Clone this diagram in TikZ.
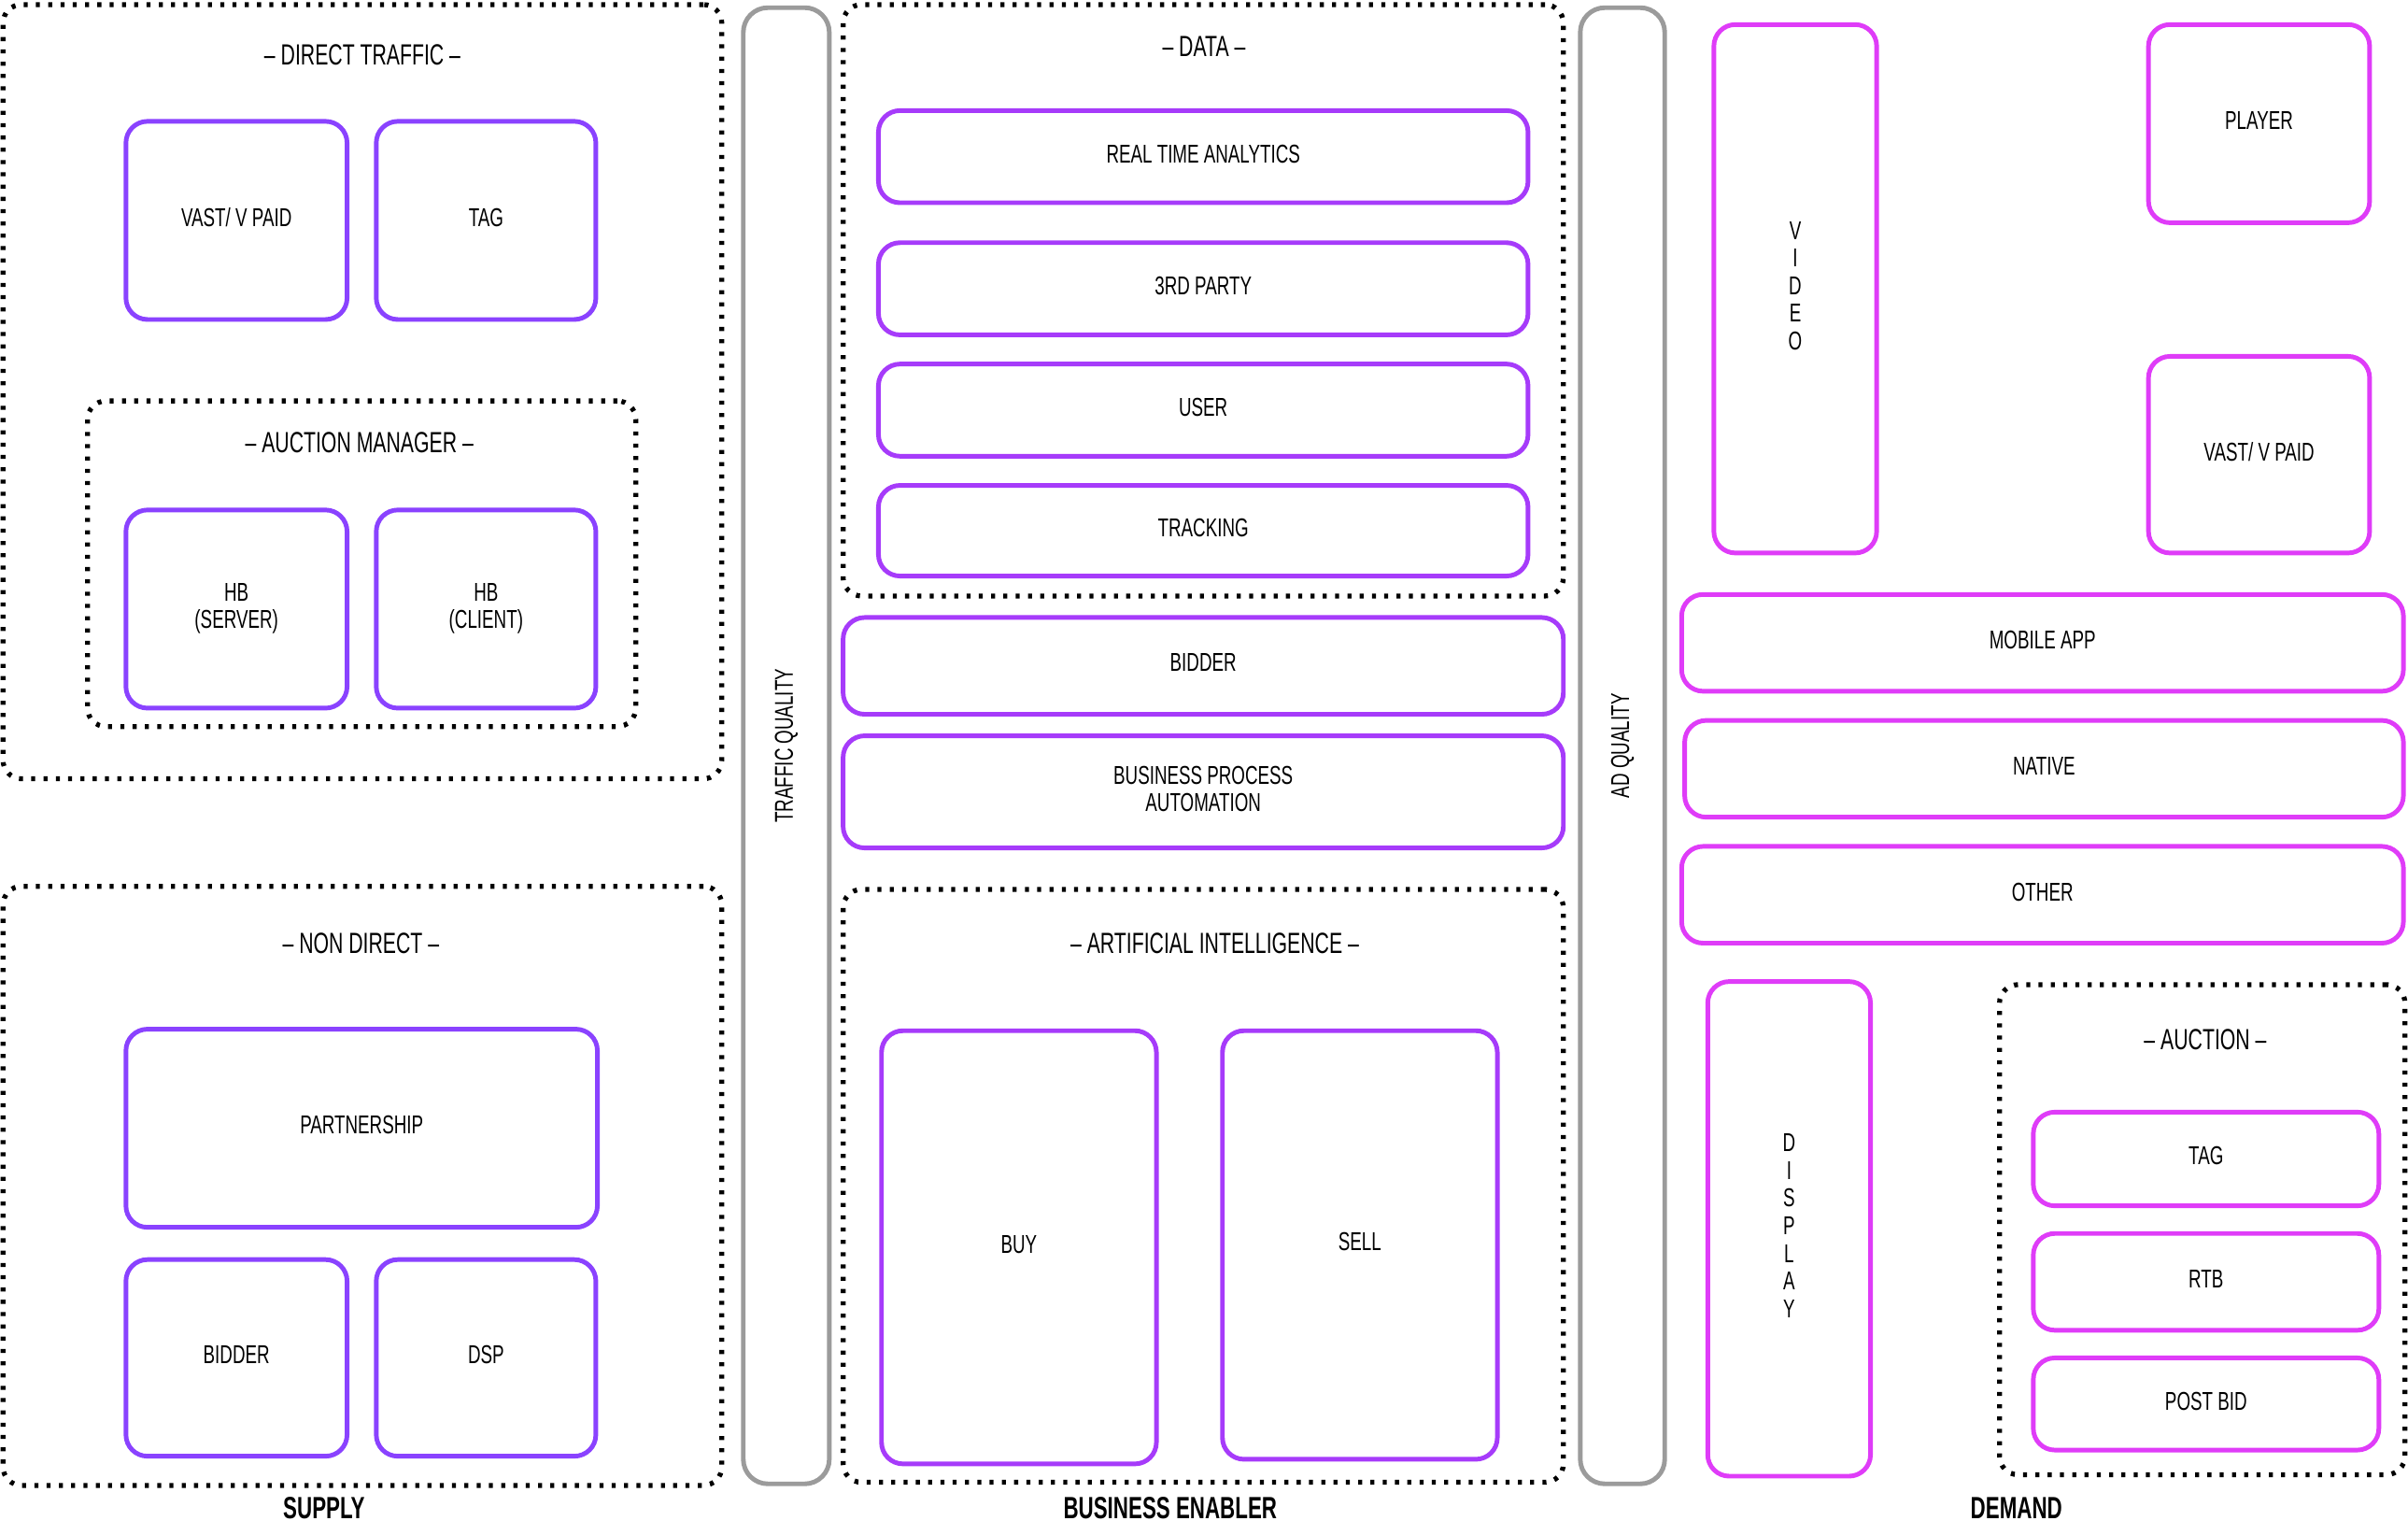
\documentclass[tikz,border=0pt]{standalone}
\usepackage{fontspec}
\setmainfont[FakeStretch=0.68]{Liberation Sans}
\definecolor{supplyc}{HTML}{8A42FF}
\definecolor{enablerc}{HTML}{A63BFA}
\definecolor{demandc}{HTML}{DF3CF8}
\definecolor{barc}{HTML}{9B9B9B}
\tikzset{every node/.style={font=\fontsize{16.8}{18}\selectfont,align=center},
  boxbase/.style={draw,rounded corners=14pt,line width=3pt,inner sep=0pt,text depth=4pt},
  supbox/.style={boxbase,draw=supplyc},
  enbox/.style={boxbase,draw=enablerc},
  dembox/.style={boxbase,draw=demandc},
  groupbox/.style={draw,rounded corners=12pt,line width=3.2pt,dash pattern=on 2.6pt off 5.4pt,inner sep=0pt},
  qbar/.style={draw=barc,rounded corners=16pt,line width=3pt,rotate=90,inner sep=0pt},
  grouptitle/.style={font=\fontsize{19}{20}\selectfont},
  sidelabel/.style={font=\fontsize{20}{20}\selectfont\bfseries}}
\begin{document}
\begin{tikzpicture}[x=1pt,y=-1pt]
\useasboundingbox (0,0) rectangle (1568,990);
\foreach \nm/\x/\y/\w/\h in {dt/236/255/468/504,am/235.5/367/357/212,nd/236/772/468/390,data/783.5/195.5/469/385,ai/783.5/772/469/386,auc/1434/800.5/264/319}
  \node[groupbox,minimum width=\w,minimum height=\h] (\nm) at (\x,\y) {};
\foreach \nm/\x/\y/\txt in {dttl/236/36/DIRECT TRAFFIC,amttl/234/288/AUCTION MANAGER,ndttl/235/614/NON DIRECT,datattl/784/30/DATA,aittl/791/614/ARTIFICIAL INTELLIGENCE,aucttl/1436/677/AUCTION}
  \node[grouptitle] (\nm) at (\x,\y) {-- \txt{} --};
\foreach \nm/\x/\y/\w/\h/\txt in {vast/154/143.5/144/129/{VAST/ V PAID},tag/316.5/143.5/143/129/TAG,hbs/154/396.5/144/129/{HB\\(SERVER)},hbc/316.5/396.5/143/129/{HB\\(CLIENT)},partner/235.5/734.5/307/129/PARTNERSHIP,sbid/154/884/144/128/BIDDER,dsp/316.5/884/143/128/DSP}
  \node[supbox,minimum width=\w,minimum height=\h] (\nm) at (\x,\y) {\txt};
\foreach \nm/\x/\y/\w/\h/\txt in {rta/783.5/102/423/60/REAL TIME ANALYTICS,third/783.5/188/423/60/3RD PARTY,user/783.5/267/423/60/USER,track/783.5/345.5/423/59/TRACKING,ebid/783.5/433.5/469/63/BIDDER,bpa/783.5/515.5/469/73/{BUSINESS PROCESS\\AUTOMATION},buy/663.5/812/179/282/BUY,sell/885.5/810.5/179/279/SELL}
  \node[enbox,minimum width=\w,minimum height=\h] (\nm) at (\x,\y) {\txt};
\foreach \nm/\x/\y/\w/\h/\txt in {video/1169/188/106/344/{V\\I\\D\\E\\O},player/1471/80.5/144/129/PLAYER,dvast/1471/296/144/128/{VAST/ V PAID},mobile/1330/418.5/470/63/MOBILE APP,native/1331/500.5/468/63/NATIVE,other/1330/582.5/470/63/OTHER,display/1165/800/106/322/{D\\I\\S\\P\\L\\A\\Y},dtag/1436.5/754.5/225/61/TAG,rtb/1436.5/834.5/225/63/RTB,post/1436.5/914/225/60/POST BID}
  \node[dembox,minimum width=\w,minimum height=\h] (\nm) at (\x,\y) {\txt};
\node[qbar,minimum width=961,minimum height=56] (tq) at (512,485.5) {TRAFFIC QUALITY};
\node[qbar,minimum width=961,minimum height=55] (aq) at (1056.5,485.5) {AD QUALITY};
\foreach \nm/\x/\txt in {supply/211/SUPPLY,enabler/762/BUSINESS ENABLER,demand/1313/DEMAND}
  \node[sidelabel] (\nm) at (\x,982) {\txt};
\end{tikzpicture}
\end{document}
